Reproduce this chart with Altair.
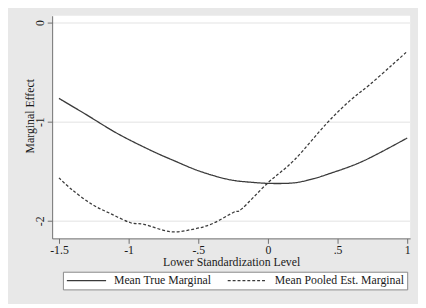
import altair as alt
import pandas as pd

series_names = ["Mean True Marginal", "Mean Pooled Est. Marginal"]

true_x = [-1.5, -1.31, -1.08, -0.845, -0.68, -0.49, -0.28, -0.1, 0.05, 0.19, 0.3, 0.42, 0.68, 1.0]
true_y = [-0.765, -0.924, -1.12, -1.287, -1.39, -1.50, -1.584, -1.614, -1.624, -1.617, -1.585, -1.535, -1.40, -1.165]

pooled_x = [-1.5, -1.41, -1.268, -1.127, -0.986, -0.89, -0.70, -0.54, -0.40, -0.246,
            -0.188, 0.0, 0.19, 0.42, 0.587, 0.73, 0.89, 1.0]
pooled_y = [-1.567, -1.683, -1.83, -1.93, -2.02, -2.036, -2.11, -2.086, -2.03, -1.914,
            -1.88, -1.617, -1.386, -1.02, -0.79, -0.627, -0.43, -0.29]

x_ticks = [-1.5, -1.0, -0.5, 0.0, 0.5, 1.0]
y_ticks = [0, -1, -2]

rows = []
for xv, yv in zip(true_x, true_y):
    rows.append({"x": xv, "y": yv, "series": series_names[0]})
for xv, yv in zip(pooled_x, pooled_y):
    rows.append({"x": xv, "y": yv, "series": series_names[1]})
df = pd.DataFrame(rows)

FONT = "Liberation Serif"
TXT = "#1a1a1a"
AX = "#6e6e6e"

chart = alt.Chart(df).mark_line(
    color="#3a3a3a", strokeWidth=1.3, interpolate="cardinal"
).encode(
    x=alt.X(
        "x:Q",
        scale=alt.Scale(domain=[-1.549, 1.021], nice=False, zero=False),
        axis=alt.Axis(
            values=x_ticks,
            title="Lower Standardization Level",
            labelExpr="replace(toString(datum.value), regexp('^(-?)0\\\\.'), '$1.')",
            grid=False,
            domainColor=AX,
            tickColor=AX,
            tickSize=5,
            labelPadding=1,
            labelFont=FONT,
            labelFontSize=12,
            labelColor=TXT,
            titleFont=FONT,
            titleFontSize=12,
            titleFontWeight="normal",
            titleColor=TXT,
            titleBaseline="middle",
            titleY=24,
            labelFlush=False,
        ),
    ),
    y=alt.Y(
        "y:Q",
        scale=alt.Scale(domain=[-2.178, 0.069], nice=False, zero=False),
        axis=alt.Axis(
            values=y_ticks,
            title="Marginal Effect",
            labelExpr="toString(datum.value)",
            grid=True,
            gridColor="#ececec",
            gridWidth=1.5,
            domainColor=AX,
            tickColor=AX,
            tickSize=5,
            labelPadding=1,
            labelAngle=270,
            labelAlign="center",
            labelBaseline="bottom",
            labelFont=FONT,
            labelFontSize=12,
            labelColor=TXT,
            titleFont=FONT,
            titleFontSize=12,
            titleFontWeight="normal",
            titleColor=TXT,
            titleAngle=270,
            titleAlign="center",
            titleBaseline="middle",
            titleX=-23,
            titleY=102,
        ),
    ),
    strokeDash=alt.StrokeDash(
        "series:N",
        scale=alt.Scale(domain=series_names, range=[[1, 0], [3, 2]]),
        legend=alt.Legend(
            title=None,
            orient="none",
            legendX=11,
            legendY=261,
            direction="horizontal",
            fillColor="white",
            strokeColor="#888888",
            padding=3,
            symbolType="M-1,0L7,0",
            symbolSize=100,
            symbolStrokeWidth=1.3,
            symbolStrokeColor="#3a3a3a",
            labelOffset=37,
            columnPadding=13,
            labelFont=FONT,
            labelFontSize=12,
            labelColor=TXT,
            cornerRadius=0,
        ),
    ),
).properties(
    width=365,
    height=227,
    autosize=alt.AutoSizeParams(type="none"),
    padding={"left": 45, "top": 5, "right": 8, "bottom": 64},
    background="#e8e8e8",
).configure_view(
    fill="white", strokeWidth=0
)

chart.save("out.html", embed_options={"renderer": "svg", "actions": False})
